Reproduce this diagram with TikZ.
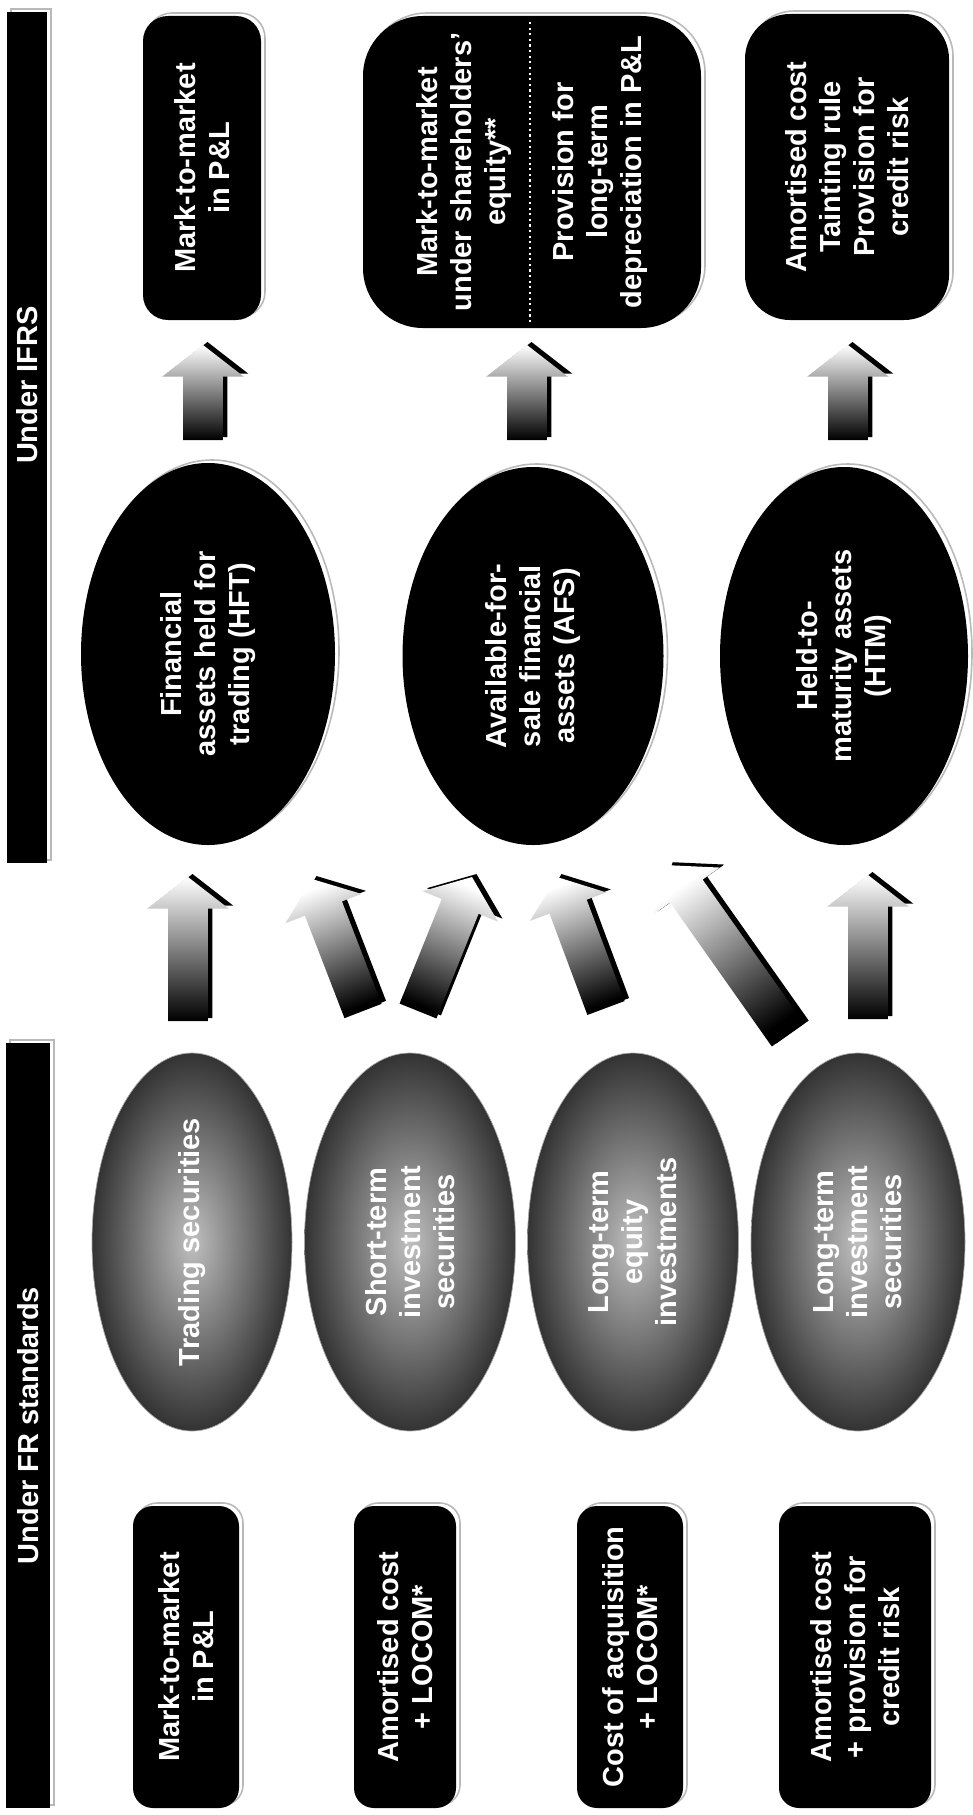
\documentclass[tikz,border=0pt]{standalone}
\usepackage{fontspec}
\setmainfont{Liberation Sans}
\usetikzlibrary{positioning, calc, shapes.geometric}

% fat shaded arrow from #1 (tail) to #2 (tip), with a black offset shadow
\newcommand{\fatarrow}[2]{%
  \path let \p1=($(#2)-(#1)$) in \pgfextra{%
    \pgfmathsetmacro\fatang{atan2(\y1,\x1)}%
    \pgfmathsetmacro\fatlen{veclen(\x1,\y1)}%
    \pgfmathsetmacro\fatshade{\fatang-90}%
    \global\let\fatang\fatang\global\let\fatlen\fatlen\global\let\fatshade\fatshade};
  \fill[black, shift={(#1)}, xshift=0.9mm, yshift=0.6mm, rotate=\fatang, x=1pt, y=1pt]
    (0,-11.3) -- (\fatlen-18,-11.3) -- (\fatlen-18,-23.2) -- (\fatlen,0)
    -- (\fatlen-18,23.2) -- (\fatlen-18,11.3) -- (0,11.3) -- cycle;
  \shade[top color=white, bottom color=black, shading angle=\fatshade,
    shift={(#1)}, rotate=\fatang, x=1pt, y=1pt]
    (0,-11.3) -- (\fatlen-18,-11.3) -- (\fatlen-18,-23.2) -- (\fatlen,0)
    -- (\fatlen-18,23.2) -- (\fatlen-18,11.3) -- (0,11.3) -- cycle;}

\begin{document}
\begin{tikzpicture}[
  x=0.2mm, y=-0.2mm,
  every node/.style={rotate=90, align=center, text=white, inner sep=0pt,
    font=\bfseries\fontsize{16.5}{19.3}\selectfont},
  softshadow/.style={preaction={draw=gray!55, line width=0.9pt,
    transform canvas={xshift=0.8mm, yshift=0.6mm}}},
  headbar/.style={fill=black, softshadow},
  rulebox/.style={fill=black, softshadow},
  ifrsoval/.style={ellipse, fill=black, softshadow},
  froval/.style={ellipse, draw=gray!70, inner color=gray!50, outer color=black!80},
  sepline/.style={white, dotted, line width=1.2pt}
]
\useasboundingbox (0,0) rectangle (973,1815);

% Headers
\node[headbar, minimum width=170.2mm, minimum height=8mm] (ifrsbar) at (27,437.5) {};
\node (ifrstitle) at (27,385) {Under IFRS};
\node[headbar, minimum width=153mm, minimum height=8.8mm] (frbar) at (28,1425.5) {Under FR standards};

% Treatment under IFRS
\node[rulebox, rounded corners=5mm, minimum width=60.8mm, minimum height=23.6mm] (mtmifrs) at (202,168) {Mark-to-market\\in P\&L};
\node[rulebox, rounded corners=12mm, minimum width=62.4mm, minimum height=67.6mm] (afsrule) at (532,172)
  {Mark-to-market\\under shareholders'\\equity**\\[19.3pt]Provision for\\long-term\\depreciation in P\&L};
\node[rulebox, rounded corners=9mm, minimum width=61.2mm, minimum height=40.8mm] (htmrule) at (847,167)
  {Amortised cost\\Tainting rule\\Provision for\\credit risk};
\draw[sepline] ($(afsrule.center)+(-2,-150)$) -- ($(afsrule.center)+(-2,150)$);

% IFRS categories
\node[ifrsoval, minimum width=76.4mm, minimum height=50.8mm] (hft) at (208,654) {Financial\\assets held for\\trading (HFT)};
\node[ifrsoval, minimum width=75.6mm, minimum height=52.2mm] (afs) at (533,656) {Available-for-\\sale financial\\assets (AFS)};
\node[ifrsoval, minimum width=75.6mm, minimum height=49.6mm] (htm) at (844,656) {Held-to-\\maturity assets\\(HTM)};

% FR categories
\node[froval, minimum width=75.6mm, minimum height=40mm] (trading) at (192,1242) {\makebox[48mm]{Trading securities}};
\node[froval, minimum width=75.6mm, minimum height=42.2mm] (shortinv) at (410,1242) {Short-term\\investment\\securities};
\node[froval, minimum width=75.6mm, minimum height=42.2mm] (ltequity) at (633,1242) {Long-term\\equity\\investments};
\node[froval, minimum width=75.6mm, minimum height=42.8mm] (ltinv) at (858,1242) {Long-term\\investment\\securities};

% Treatment under FR standards
\node[rulebox, rounded corners=4mm, minimum width=60.4mm, minimum height=21.2mm] (mtmfr) at (186,1657) {Mark-to-market\\in P\&L};
\node[rulebox, rounded corners=4mm, minimum width=60.4mm, minimum height=20.4mm] (amortfr) at (405,1657) {Amortised cost\\+ LOCOM*};
\node[rulebox, rounded corners=4mm, minimum width=60.4mm, minimum height=21.2mm] (costfr) at (630,1657) {Cost of acquisition\\+ LOCOM*};
\node[rulebox, rounded corners=4mm, minimum width=60.4mm, minimum height=30.4mm] (provfr) at (855,1657) {Amortised cost\\+ provision for\\credit risk};

% Arrow ends
\coordinate (trading-out) at (188,1021);  \coordinate (hft-in) at (188,877);
\coordinate (shortinv-out1) at (363,1011); \coordinate (hft-in2) at (312,879);
\coordinate (shortinv-out2) at (418,1011); \coordinate (afs-in1) at (472,877);
\coordinate (ltequity-out) at (606,1008);  \coordinate (afs-in2) at (557,877);
\coordinate (ltinv-out1) at (788,1035);    \coordinate (afs-in3) at (668,865);
\coordinate (ltinv-out2) at (868,1019);    \coordinate (htm-in) at (868,875);
\coordinate (hft-out) at (203,440);  \coordinate (mtmifrs-in) at (203,345);
\coordinate (afs-out) at (527,440);  \coordinate (afsrule-in) at (527,345);
\coordinate (htm-out) at (848,440);  \coordinate (htmrule-in) at (848,345);

% Arrows
\fatarrow{trading-out}{hft-in}
\fatarrow{shortinv-out1}{hft-in2}
\fatarrow{shortinv-out2}{afs-in1}
\fatarrow{ltequity-out}{afs-in2}
\fatarrow{ltinv-out1}{afs-in3}
\fatarrow{ltinv-out2}{htm-in}
\fatarrow{hft-out}{mtmifrs-in}
\fatarrow{afs-out}{afsrule-in}
\fatarrow{htm-out}{htmrule-in}

\end{tikzpicture}
\end{document}
